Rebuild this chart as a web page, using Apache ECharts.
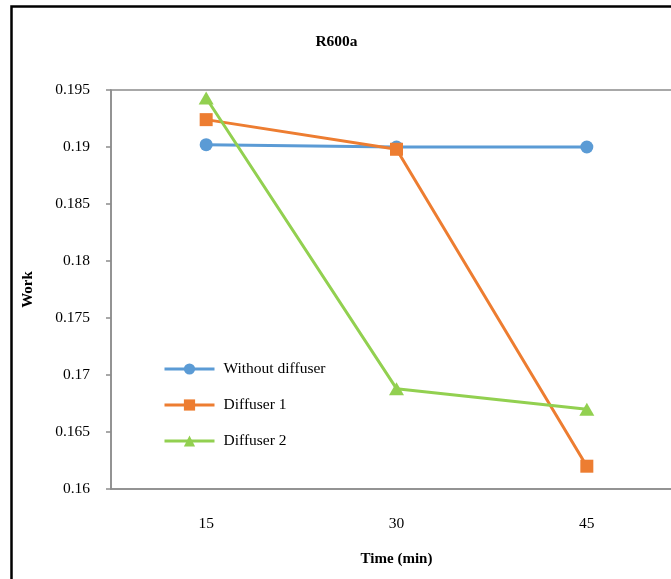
<!DOCTYPE html>
<html>
<head>
<meta charset="utf-8">
<script src="https://cdn.jsdelivr.net/npm/echarts@6/dist/echarts.min.js"></script>
<style>html,body{margin:0;padding:0;background:#fff}#c{width:671px;height:579px}</style>
</head>
<body>
<div id="c"></div>
<script>
var categories = ['15', '30', '45'];
var withoutDiffuser = [0.1902, 0.1900, 0.1900];
var diffuser1 = [0.1924, 0.1898, 0.1620];
var diffuser2 = [0.1943, 0.1688, 0.1670];
var seriesNames = ['Without diffuser', 'Diffuser 1', 'Diffuser 2'];

var FONT = '"Liberation Serif", "Times New Roman", serif';
var chart = echarts.init(document.getElementById('c'), null, {renderer: 'canvas'});
var gray = '#8c8c8c';
chart.setOption({
  animation: false,
  backgroundColor: '#fff',
  title: {
    text: 'R600a', left: 331.5, top: 29, textAlign: 'center',
    textStyle: {fontFamily: FONT, fontWeight: 'bold', fontSize: 15.5, color: '#000'}
  },
  legend: {
    orient: 'vertical', left: 158, top: 356, itemWidth: 50, itemHeight: 14, itemGap: 20,
    data: seriesNames,
    lineStyle: {width: 3},
    textStyle: {fontFamily: FONT, fontSize: 15.5, color: '#000', padding: [0, 0, 0, 4]}
  },
  grid: {left: 111, top: 90, width: 571, bottom: 90, show: true, borderColor: gray, borderWidth: 1.5,
         containLabel: false, outerBoundsMode: 'none'},
  xAxis: {
    type: 'category', data: categories, boundaryGap: true,
    name: 'Time (min)', nameLocation: 'middle', nameGap: 63,
    nameTextStyle: {fontFamily: FONT, fontWeight: 'bold', fontSize: 15, color: '#000'},
    axisLine: {lineStyle: {color: gray, width: 1.5}},
    axisTick: {show: false},
    axisLabel: {margin: 27, fontFamily: FONT, fontSize: 15.5, color: '#000'},
    splitLine: {show: false}
  },
  yAxis: {
    type: 'value', min: 0.16, max: 0.195, interval: 0.005,
    name: 'Work', nameLocation: 'middle', nameGap: 75, nameRotate: 90,
    nameTextStyle: {fontFamily: FONT, fontWeight: 'bold', fontSize: 15, color: '#000'},
    axisLine: {show: true, lineStyle: {color: gray, width: 1.5}},
    axisTick: {show: true, length: 5, lineStyle: {color: gray, width: 1.5}},
    axisLabel: {margin: 21, fontFamily: FONT, fontSize: 15.5, color: '#000'},
    splitLine: {show: false}
  },
  series: [
    {name: seriesNames[0], type: 'line', data: withoutDiffuser, symbol: 'circle', symbolSize: 13,
     lineStyle: {color: '#5B9BD5', width: 3}, itemStyle: {color: '#5B9BD5'}},
    {name: seriesNames[1], type: 'line', data: diffuser1, symbol: 'rect', symbolSize: 13,
     lineStyle: {color: '#ED7D31', width: 3}, itemStyle: {color: '#ED7D31'}},
    {name: seriesNames[2], type: 'line', data: diffuser2, symbol: 'triangle', symbolSize: [15, 13],
     lineStyle: {color: '#92D050', width: 3}, itemStyle: {color: '#92D050'}}
  ],
  graphic: [{
    type: 'rect', silent: true, z: 100,
    shape: {x: 11.5, y: 6.5, width: 720, height: 640},
    style: {fill: 'none', stroke: '#000', lineWidth: 2.5}
  }]
});
</script>
</body>
</html>
